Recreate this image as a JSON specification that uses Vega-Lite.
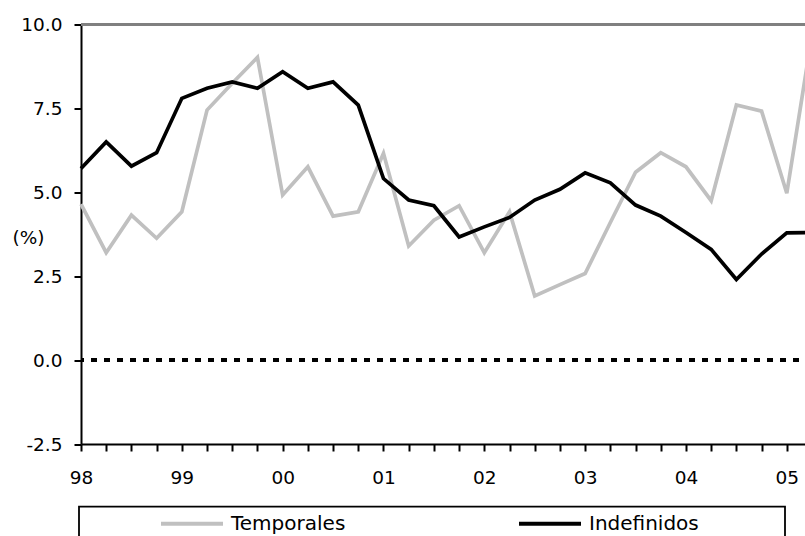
{
  "$schema": "https://vega.github.io/schema/vega-lite/v6.json",
  "autosize": "none",
  "width": 731,
  "height": 419.5,
  "padding": {"left": 81, "top": 24.5, "right": 0, "bottom": 92},
  "background": "white",
  "config": {
    "view": {"stroke": null},
    "font": "DejaVu Sans",
    "axis": {"labelFont": "DejaVu Sans", "titleFont": "DejaVu Sans", "labelColor": "#000", "titleColor": "#000"},
    "legend": {"strokeWidth": 1.8}
  },
  "data": {"values": [
    {"periodo": "1998-T1", "serie": "Temporales", "valor": 4.65},
    {"periodo": "1998-T2", "serie": "Temporales", "valor": 3.2},
    {"periodo": "1998-T3", "serie": "Temporales", "valor": 4.32},
    {"periodo": "1998-T4", "serie": "Temporales", "valor": 3.63},
    {"periodo": "1999-T1", "serie": "Temporales", "valor": 4.42},
    {"periodo": "1999-T2", "serie": "Temporales", "valor": 7.45},
    {"periodo": "1999-T3", "serie": "Temporales", "valor": 8.25},
    {"periodo": "1999-T4", "serie": "Temporales", "valor": 9.02},
    {"periodo": "2000-T1", "serie": "Temporales", "valor": 4.92},
    {"periodo": "2000-T2", "serie": "Temporales", "valor": 5.76},
    {"periodo": "2000-T3", "serie": "Temporales", "valor": 4.29},
    {"periodo": "2000-T4", "serie": "Temporales", "valor": 4.42},
    {"periodo": "2001-T1", "serie": "Temporales", "valor": 6.16},
    {"periodo": "2001-T2", "serie": "Temporales", "valor": 3.4},
    {"periodo": "2001-T3", "serie": "Temporales", "valor": 4.17},
    {"periodo": "2001-T4", "serie": "Temporales", "valor": 4.6},
    {"periodo": "2002-T1", "serie": "Temporales", "valor": 3.2},
    {"periodo": "2002-T2", "serie": "Temporales", "valor": 4.42},
    {"periodo": "2002-T3", "serie": "Temporales", "valor": 1.91},
    {"periodo": "2002-T4", "serie": "Temporales", "valor": 2.25},
    {"periodo": "2003-T1", "serie": "Temporales", "valor": 2.58},
    {"periodo": "2003-T2", "serie": "Temporales", "valor": 4.1},
    {"periodo": "2003-T3", "serie": "Temporales", "valor": 5.6},
    {"periodo": "2003-T4", "serie": "Temporales", "valor": 6.18},
    {"periodo": "2004-T1", "serie": "Temporales", "valor": 5.76},
    {"periodo": "2004-T2", "serie": "Temporales", "valor": 4.75},
    {"periodo": "2004-T3", "serie": "Temporales", "valor": 7.6},
    {"periodo": "2004-T4", "serie": "Temporales", "valor": 7.42},
    {"periodo": "2005-T1", "serie": "Temporales", "valor": 4.97},
    {"periodo": "2005-T2", "serie": "Temporales", "valor": 9.7},
    {"periodo": "1998-T1", "serie": "Indefinidos", "valor": 5.71},
    {"periodo": "1998-T2", "serie": "Indefinidos", "valor": 6.5},
    {"periodo": "1998-T3", "serie": "Indefinidos", "valor": 5.78},
    {"periodo": "1998-T4", "serie": "Indefinidos", "valor": 6.18},
    {"periodo": "1999-T1", "serie": "Indefinidos", "valor": 7.8},
    {"periodo": "1999-T2", "serie": "Indefinidos", "valor": 8.1},
    {"periodo": "1999-T3", "serie": "Indefinidos", "valor": 8.29},
    {"periodo": "1999-T4", "serie": "Indefinidos", "valor": 8.1},
    {"periodo": "2000-T1", "serie": "Indefinidos", "valor": 8.59},
    {"periodo": "2000-T2", "serie": "Indefinidos", "valor": 8.1},
    {"periodo": "2000-T3", "serie": "Indefinidos", "valor": 8.29},
    {"periodo": "2000-T4", "serie": "Indefinidos", "valor": 7.6},
    {"periodo": "2001-T1", "serie": "Indefinidos", "valor": 5.41},
    {"periodo": "2001-T2", "serie": "Indefinidos", "valor": 4.77},
    {"periodo": "2001-T3", "serie": "Indefinidos", "valor": 4.6},
    {"periodo": "2001-T4", "serie": "Indefinidos", "valor": 3.67},
    {"periodo": "2002-T1", "serie": "Indefinidos", "valor": 3.97},
    {"periodo": "2002-T2", "serie": "Indefinidos", "valor": 4.25},
    {"periodo": "2002-T3", "serie": "Indefinidos", "valor": 4.77},
    {"periodo": "2002-T4", "serie": "Indefinidos", "valor": 5.09},
    {"periodo": "2003-T1", "serie": "Indefinidos", "valor": 5.58},
    {"periodo": "2003-T2", "serie": "Indefinidos", "valor": 5.28},
    {"periodo": "2003-T3", "serie": "Indefinidos", "valor": 4.62},
    {"periodo": "2003-T4", "serie": "Indefinidos", "valor": 4.29},
    {"periodo": "2004-T1", "serie": "Indefinidos", "valor": 3.8},
    {"periodo": "2004-T2", "serie": "Indefinidos", "valor": 3.3},
    {"periodo": "2004-T3", "serie": "Indefinidos", "valor": 2.4},
    {"periodo": "2004-T4", "serie": "Indefinidos", "valor": 3.16},
    {"periodo": "2005-T1", "serie": "Indefinidos", "valor": 3.79},
    {"periodo": "2005-T2", "serie": "Indefinidos", "valor": 3.8}
  ]},
  "layer": [
    {
      "mark": {"type": "rule", "color": "#808080", "strokeWidth": 2},
      "encoding": {"y": {"datum": 10, "type": "quantitative"}}
    },
    {
      "mark": {"type": "rule", "color": "#000000", "strokeWidth": 2.5, "strokeDash": [6, 7]},
      "encoding": {"y": {"datum": 0, "type": "quantitative"}}
    },
    {
      "mark": {"type": "line", "strokeWidth": 3.7, "strokeJoin": "miter"},
      "encoding": {
        "x": {
          "field": "periodo", "type": "ordinal", "sort": null,
          "scale": {"type": "point", "padding": 0},
          "axis": {
            "title": null,
            "labelExpr": "slice(datum.value, 5) == 'T1' ? slice(datum.value, 2, 4) : ''",
            "labelAngle": 0,
            "labelFontSize": 18.5,
            "labelPadding": 17,
            "labelOverlap": false,
            "labelAlign": "center",
            "domainColor": "#000", "domainWidth": 2,
            "tickColor": "#000", "tickWidth": 2, "tickSize": 7,
            "grid": false
          }
        },
        "y": {
          "field": "valor", "type": "quantitative",
          "scale": {"domain": [-2.5, 10], "nice": false, "zero": false},
          "axis": {
            "values": [-2.5, 0, 2.5, 5, 7.5, 10],
            "format": ".1f",
            "labelExpr": "replace(datum.label, '\u2212', '-')",
            "title": "(%)",
            "titleAngle": 0,
            "titleAlign": "center",
            "titleBaseline": "middle",
            "titleX": -53,
            "titleY": 212.5,
            "titleFontSize": 18.5,
            "titleFontWeight": "normal",
            "labelFontSize": 18.5,
            "labelPadding": 12,
            "domainColor": "#000", "domainWidth": 2,
            "tickColor": "#000", "tickWidth": 2, "tickSize": 7,
            "grid": false
          }
        },
        "color": {
          "field": "serie", "type": "nominal",
          "scale": {"domain": ["Temporales", "Indefinidos"], "range": ["#c0c0c0", "#000000"]},
          "legend": {
            "orient": "none",
            "legendX": -2,
            "legendY": 482.2,
            "direction": "horizontal",
            "title": "\u00a0",
            "titleOrient": "left",
            "titlePadding": 73,
            "titleFontSize": 20,
            "strokeColor": "#000",
            "padding": 7,
            "symbolType": "stroke",
            "symbolSize": 3844,
            "symbolStrokeWidth": 4,
            "clipHeight": 20,
            "labelFont": "DejaVu Sans",
            "labelFontSize": 20,
            "labelColor": "#000",
            "labelOffset": 6,
            "labelLimit": 400,
            "columnPadding": 171,
            "labelExpr": "datum.label == 'Indefinidos' ? datum.label + '\u2007\u2007\u2007\u2007\u2007\u2800' : datum.label"
          }
        }
      }
    }
  ]
}
